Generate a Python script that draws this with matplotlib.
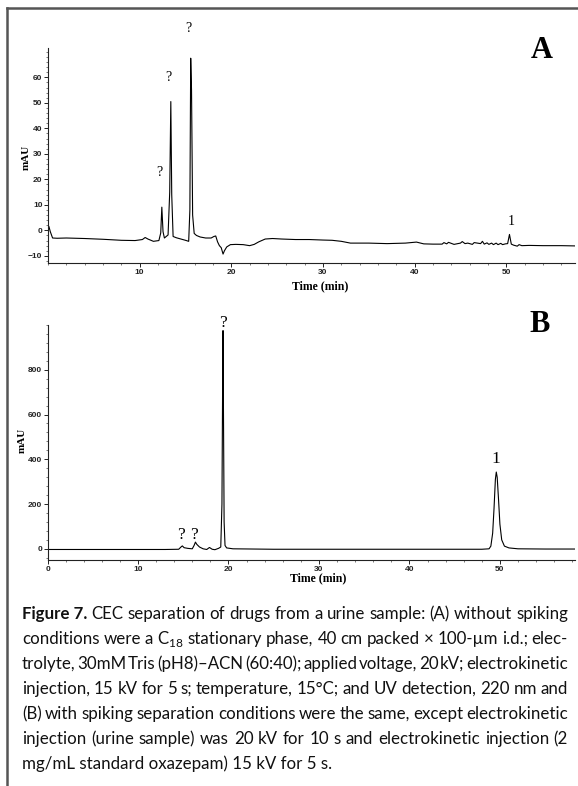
import matplotlib
matplotlib.use("Agg")
import matplotlib.pyplot as plt
from matplotlib.ticker import MultipleLocator
from matplotlib.lines import Line2D
from matplotlib import font_manager

# ---------------- data ----------------
# Panel A: chromatogram without spiking (time in min, signal in mAU)
time_a = [0.0, 0.1, 0.25, 0.5, 1.0, 2.0, 4.0, 6.0, 8.0, 9.5, 10.3, 10.6, 10.9, 11.5,
          12.1, 12.3, 12.42, 12.55, 12.7, 12.9, 13.1, 13.28, 13.4, 13.5, 13.65, 14.0,
          14.5, 15.0, 15.35, 15.48, 15.57, 15.66, 15.78, 15.95, 16.2, 16.6, 17.2,
          17.8, 18.1, 18.3, 18.5, 18.7, 18.9, 19.1, 19.25, 19.5, 19.9, 20.5, 21.3, 22.0, 22.5, 23.0, 23.7, 24.5,
          25.5, 27.0, 28.5, 30.0, 31.0, 32.0, 33.0, 35.0, 37.0, 39.0, 40.2, 41.0, 42.0,
          43.0, 43.2, 43.5, 43.7, 44.3, 45.0, 45.2, 45.5, 45.8, 46.3, 46.5, 47.2, 47.4, 47.6, 47.9, 48.1, 48.4, 48.6, 48.9, 49.1, 49.4, 49.6, 49.9,
          50.15, 50.35, 50.55, 50.8, 51.2, 51.4, 51.7, 52.5, 54.0, 56.0, 57.5]
signal_a = [1.8, 1.5, -0.5, -3.0, -3.1, -3.0, -3.2, -3.5, -3.9, -4.0, -3.6, -2.8, -3.4, -4.3,
            -4.0, -1.0, 9.1, -0.5, -3.0, -2.4, -1.8, 15.0, 50.5, 14.0, -2.4, -2.9,
            -3.4, -3.9, -4.3, 8.0, 67.5, 55.0, 6.0, -1.2, -2.0, -2.6, -3.0,
            -3.0, -2.4, -2.2, -4.5, -6.0, -6.8, -9.3, -8.0, -6.5, -5.6, -5.5, -5.6, -6.0, -5.5, -4.5, -3.4, -3.2,
            -3.4, -3.6, -3.6, -3.8, -3.9, -4.3, -5.0, -5.0, -5.2, -5.0, -4.6, -5.3, -5.4,
            -5.4, -4.8, -5.3, -4.7, -5.5, -5.0, -4.4, -5.2, -5.0, -5.5, -4.8, -5.2, -4.3, -5.4, -4.9, -5.5, -5.0, -5.6, -5.0, -5.6, -5.1, -5.6, -5.3,
            -5.2, -1.6, -5.4, -5.8, -6.2, -5.6, -6.0, -5.9, -6.0, -6.0, -6.1]

# Panel B: chromatogram with spiking
time_b = [0.0, 2.0, 5.0, 10.0, 13.0, 14.5, 14.75, 14.9, 15.1, 15.5, 16.0, 16.2, 16.35, 16.5,
          16.8, 17.2, 17.6, 17.9, 18.2, 18.5, 18.9, 19.15, 19.28, 19.35, 19.4, 19.45, 19.52,
          19.62, 19.8, 20.5, 25.0, 30.0, 35.0, 40.0, 45.0, 48.0, 48.8, 49.0, 49.2, 49.35,
          49.5, 49.6, 49.7, 49.85, 50.0, 50.2, 50.5, 51.0, 52.0, 55.0, 58.3]
signal_b = [-3, -3, -3, -3, -3, -2, 8, 13, 5, 2, 0, 15, 30, 20,
            8, 0, -3, 6, -2, -4, 2, 8, 200, 700, 975, 600, 120,
            15, 4, 0, -2, -2, -2, -2, -2, -2, 0, 12, 70, 180,
            310, 343, 320, 220, 110, 40, 12, 4, 0, -1, -1]

# peak annotations (text, time, mAU)
labels_a = ["?", "?", "?", "1"]
label_t_a = [12.1, 13.15, 15.3, 50.5]
label_y_a = [22.6, 60.1, 79.3, 3.4]

labels_b = ["?", "?", "?", "1"]
label_t_b = [14.7, 16.2, 19.4, 49.5]
label_y_b = [62, 62, 1008, 401]

ticks_a_x = [10, 20, 30, 40, 50]
ticks_a_y = [-10, 0, 10, 20, 30, 40, 50, 60]
ticks_b_x = [0, 10, 20, 30, 40, 50]
ticks_b_y = [0, 200, 400, 600, 800]

caption_lines = [
    [("Figure 7.", "bold")] + [(w, "normal") for w in "CEC separation of drugs from a urine sample: (A) without spiking".split()],
    [(w, "normal") for w in "conditions were a C$_{\\mathregular{18}}$ stationary phase, 40 cm packed × 100-µm i.d.; elec-".split(" ")],
    [(w, "normal") for w in "trolyte, 30mM Tris (pH8)–ACN (60:40); applied voltage, 20 kV; electrokinetic".split()],
    [(w, "normal") for w in "injection, 15 kV for 5 s; temperature, 15°C; and UV detection, 220 nm and".split()],
    [(w, "normal") for w in "(B) with spiking separation conditions were the same, except electrokinetic".split()],
    [(w, "normal") for w in "injection (urine sample) was 20 kV for 10 s and electrokinetic injection (2".split()],
]
caption_last = "mg/mL standard oxazepam) 15 kV for 5 s."

assert len(time_a) == len(signal_a)
assert len(time_b) == len(signal_b)

# ---------------- figure ----------------
W, H = 578, 786
fig = plt.figure(figsize=(W / 100, H / 100), dpi=100)
fig.patch.set_facecolor("white")

available = {f.name for f in font_manager.fontManager.ttflist}
cap_font = "Lato" if "Lato" in available else "Liberation Sans"
serif = "Liberation Serif"
tick_font = "Liberation Sans"


def rect(l, t, r, b):
    return [l / W, 1 - b / H, (r - l) / W, (b - t) / H]


def style_axes(ax, xticks, yticks, xminor, yminor):
    for s in ("top", "right"):
        ax.spines[s].set_visible(False)
    for s in ("left", "bottom"):
        ax.spines[s].set_linewidth(0.8)
        ax.spines[s].set_color("#222222")
    ax.set_xticks(xticks)
    ax.set_yticks(yticks)
    ax.xaxis.set_minor_locator(MultipleLocator(xminor))
    ax.yaxis.set_minor_locator(MultipleLocator(yminor))
    ax.tick_params(which="major", direction="out", length=2.8, width=0.7, pad=1.2,
                   labelsize=6, colors="#222222")
    ax.tick_params(which="minor", direction="out", length=1.6, width=0.5, colors="#444444")
    for lab in ax.get_xticklabels() + ax.get_yticklabels():
        lab.set_fontfamily(tick_font)
        lab.set_fontweight("bold")
    ax.patch.set_alpha(0)


# Panel A
axA = fig.add_axes(rect(48, 48, 575, 263))
axA.plot(time_a, signal_a, color="black", lw=0.8)
axA.set_xlim(0, 57.5)
axA.set_ylim(-12.8, 71.5)
style_axes(axA, ticks_a_x, ticks_a_y, 2, 2)
for txt, t, y in zip(labels_a, label_t_a, label_y_a):
    axA.text(t, y, txt, ha="center", va="center", fontsize=10, family=serif, clip_on=False)
fig.text(542 / W, 1 - 50 / H, "A", ha="center", va="center", fontsize=22, family=serif, fontweight="bold")
fig.text(26.5 / W, 1 - 157 / H, "mAU", ha="center", va="center", rotation=90, fontsize=8,
         family=serif, fontweight="bold")
fig.text(320 / W, 1 - 286 / H, "Time (min)", ha="center", va="center", fontsize=8.5,
         family=serif, fontweight="bold")

# Panel B
axB = fig.add_axes(rect(47.5, 325, 575, 560))
axB.plot(time_b, signal_b, color="black", lw=0.8)
axB.set_xlim(0, 58.3)
axB.set_ylim(-50, 1000)
style_axes(axB, ticks_b_x, ticks_b_y, 2, 40)
for txt, t, y in zip(labels_b, label_t_b, label_y_b):
    axB.text(t, y, txt, ha="center", va="center", fontsize=12.5, family=serif, clip_on=False)
fig.text(540 / W, 1 - 324 / H, "B", ha="center", va="center", fontsize=22, family=serif, fontweight="bold")
fig.text(22 / W, 1 - 440 / H, "mAU", ha="center", va="center", rotation=90, fontsize=8,
         family=serif, fontweight="bold")
fig.text(318 / W, 1 - 578 / H, "Time (min)", ha="center", va="center", fontsize=8.5,
         family=serif, fontweight="bold")

# Frame (top and left lines)
fig.add_artist(Line2D([7 / W, 1.0], [1 - 8 / H, 1 - 8 / H], color="#555555", lw=1.8))
fig.add_artist(Line2D([7 / W, 7 / W], [0.0, 1 - 8 / H], color="#555555", lw=1.8))

# Caption, justified line by line
renderer = fig.canvas.get_renderer()
x0, x1 = 22, 568
cap_size = 12.2
base0, step = 619, 25
for i, line in enumerate(caption_lines):
    texts = []
    for word, weight in line:
        texts.append(fig.text(0, 0, word, fontsize=cap_size, family=cap_font,
                              fontweight=weight, va="baseline", ha="left", color="#111111"))
    widths = [t.get_window_extent(renderer).width for t in texts]
    gap = (x1 - x0 - sum(widths)) / (len(texts) - 1)
    x = x0
    y = base0 + step * i
    for t, w in zip(texts, widths):
        t.set_position((x / W, 1 - y / H))
        x += w + gap
fig.text(x0 / W, 1 - (base0 + step * len(caption_lines)) / H, caption_last, fontsize=cap_size,
         family=cap_font, va="baseline", ha="left", color="#111111")

fig.savefig("out.png", dpi=100)
